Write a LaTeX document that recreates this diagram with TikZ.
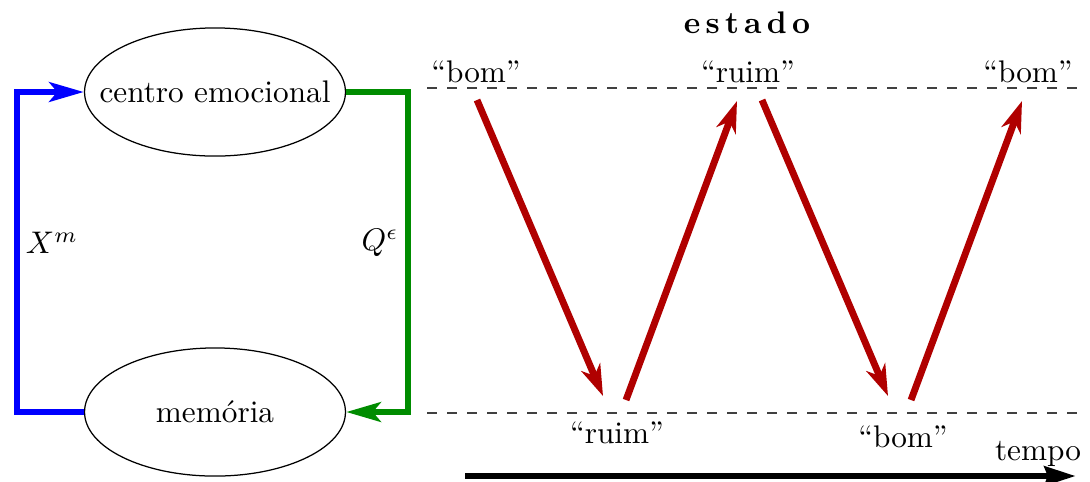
\documentclass[tikz,border=0pt]{standalone}
\usetikzlibrary{arrows.meta,shapes.geometric}
\definecolor{darkred}{RGB}{176,0,0}
\definecolor{dgreen}{RGB}{0,140,0}
\tikzset{
  box/.style={draw, ellipse, minimum width=83.5pt, minimum height=41pt, line width=0.4pt, inner xsep=-8pt, inner ysep=0pt},
  feed/.style={line width=2.2pt},
  tip/.style={-{Stealth[length=11pt,width=6.2pt,inset=2.5pt]}},
  swing/.style={line width=2.2pt, draw=darkred, -{Stealth[length=10pt,width=6.5pt,inset=3pt]}},
  level/.style={dash pattern=on 3.2pt off 3.2pt, draw=black!75, line width=0.45pt},
  lab/.style={anchor=base, inner sep=0pt}
}
\begin{document}
\begin{tikzpicture}[x=0.32pt,y=-0.32pt]
\useasboundingbox (0,0) rectangle (1090,481);
\node[box] (ce) at (215,92) {centro emocional};
\node[box] (me) at (215,412) {mem\'oria};
\coordinate (bl) at (17,0);
\coordinate (gr) at (408,0);
\draw[feed, blue, tip] (me.west) -- (me.west -| bl) -- (ce.west -| bl) -- (ce.west);
\draw[feed, dgreen, tip] (ce.east) -- (ce.east -| gr) -- (me.east -| gr) -- (me.east);
\node (xm) at (52,243) {$X^m$};
\node (qe) at (380,243) {$Q^\epsilon$};
\coordinate (t1) at (427,88); \coordinate (t2) at (1085,88);
\coordinate (b1) at (427,413); \coordinate (b2) at (1085,413);
\draw[level] (t1) -- (t2);
\draw[level] (b1) -- (b2);
\node[lab] (est) at (747,33) {\textbf{e\,s\,t\,a\,d\,o}};
\node[lab] (g1) at (476,82) {``bom''};
\node[lab] (r1) at (748,82) {``ruim''};
\node[lab] (g2) at (1028,82) {``bom''};
\node[lab] (r2) at (617,443) {``ruim''};
\node[lab] (g3) at (903,447) {``bom''};
\node[lab] (tp) at (1038,460) {tempo};
\coordinate (a1) at (477,100); \coordinate (a2) at (603,396);
\coordinate (a3) at (626,400); \coordinate (a4) at (737,101);
\coordinate (a5) at (762,100); \coordinate (a6) at (888,396);
\coordinate (a7) at (911,400); \coordinate (a8) at (1022,101);
\draw[swing] (a1) -- (a2);
\draw[swing] (a3) -- (a4);
\draw[swing] (a5) -- (a6);
\draw[swing] (a7) -- (a8);
\coordinate (s0) at (465,476); \coordinate (s1) at (1076,476);
\draw[line width=2.2pt, -{Stealth[length=10pt,width=6pt,inset=1pt]}] (s0) -- (s1);
\end{tikzpicture}
\end{document}
